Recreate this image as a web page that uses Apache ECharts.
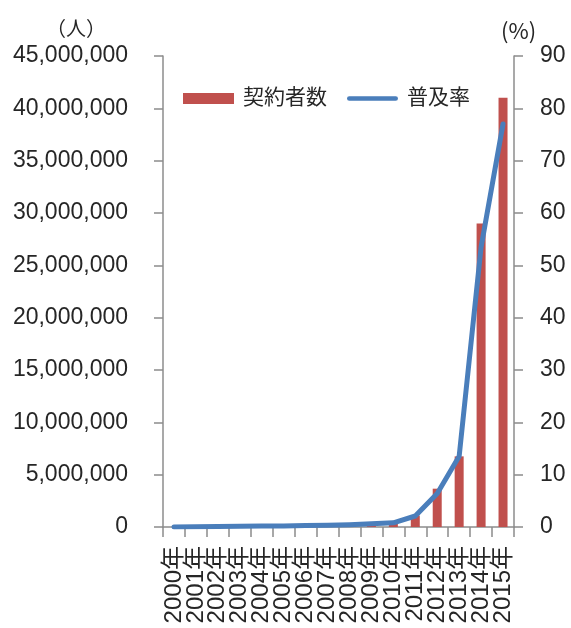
<!DOCTYPE html>
<html>
<head>
<meta charset="utf-8">
<script src="https://cdn.jsdelivr.net/npm/echarts@6/dist/echarts.min.js"></script>
<style>
  html, body { margin: 0; padding: 0; background: #fff; }
  #chart { width: 571px; height: 628px; }
</style>
</head>
<body>
<div id="chart"></div>
<script>
// Years on the category axis
const years = ['2000年','2001年','2002年','2003年','2004年','2005年','2006年','2007年',
               '2008年','2009年','2010年','2011年','2012年','2013年','2014年','2015年'];

// Number of subscribers (persons)
const subscribers = [1000, 2000, 3000, 5000, 8000, 12000, 20000, 35000,
                     60000, 230000, 460000, 1100000, 3660000, 6750000, 29000000, 41000000];

// Penetration rate (%)
const penetration = [0.0, 0.05, 0.1, 0.15, 0.2, 0.2, 0.3, 0.35,
                     0.45, 0.6, 0.8, 2.1, 6.4, 13.5, 53.5, 77.0];

// Axis ranges
const leftMax = 45000000, leftStep = 5000000;
const rightMax = 90, rightStep = 10;

const FONT = '"Liberation Sans", "Noto Sans CJK JP", sans-serif';
const TEXT = '#262626';
const AXIS = '#8c8c8c';
const RED = '#C0504D';
const BLUE = '#4A7EBB';

const chart = echarts.init(document.getElementById('chart'), null, { renderer: 'canvas' });

chart.setOption({
  animation: false,
  backgroundColor: '#fff',
  textStyle: { fontFamily: FONT, color: TEXT },
  grid: { left: 163, right: 57, top: 56, bottom: 101, containLabel: false },
  legend: {
    left: 183,
    top: 88,
    padding: 0,
    itemWidth: 51,
    itemHeight: 11,
    itemGap: 20,
    textStyle: { fontFamily: FONT, fontSize: 21, color: TEXT, padding: [0, 0, 0, 4] },
    data: [
      { name: '契約者数', icon: 'rect' },
      // thin rounded bar as the line key, without a point marker
      { name: '普及率', icon: 'path://M2,0 L52,0 A2.5,2.5 0 0 1 52,5 L2,5 A2.5,2.5 0 0 1 2,0 Z',
        itemStyle: { color: BLUE } }
    ]
  },
  graphic: [
    { type: 'text', left: 46, top: 18, style: { text: '（人）', fontFamily: '"Noto Sans CJK JP", sans-serif', fontSize: 20, fill: TEXT } },
    { type: 'text', left: 501, top: 20, style: { text: '(%)', fontFamily: '"Noto Sans CJK JP", sans-serif', fontSize: 22, fill: TEXT } }
  ],
  xAxis: {
    type: 'category',
    data: years,
    boundaryGap: true,
    axisLine: { show: true, lineStyle: { color: AXIS, width: 1.5 } },
    axisTick: { show: true, length: 10, lineStyle: { color: AXIS, width: 1.5 } },
    axisLabel: {
      rotate: 90,
      interval: 0,
      margin: 19,
      fontFamily: FONT,
      fontSize: 24,
      color: TEXT
    },
    splitLine: { show: false }
  },
  yAxis: [
    {
      type: 'value',
      min: 0,
      max: leftMax,
      interval: leftStep,
      position: 'left',
      axisLine: { show: true, lineStyle: { color: AXIS, width: 1.5 } },
      axisTick: { show: true, length: 9, lineStyle: { color: AXIS, width: 1.5 } },
      axisLabel: {
        margin: 35,
        fontFamily: FONT,
        fontSize: 23,
        color: TEXT,
        formatter: v => v.toLocaleString('en-US')
      },
      splitLine: { show: false }
    },
    {
      type: 'value',
      min: 0,
      max: rightMax,
      interval: rightStep,
      position: 'right',
      axisLine: { show: true, lineStyle: { color: AXIS, width: 1.5 } },
      axisTick: { show: true, length: 9, lineStyle: { color: AXIS, width: 1.5 } },
      axisLabel: {
        margin: 26,
        fontFamily: FONT,
        fontSize: 23,
        color: TEXT
      },
      splitLine: { show: false }
    }
  ],
  series: [
    {
      name: '契約者数',
      type: 'bar',
      yAxisIndex: 0,
      data: subscribers,
      barWidth: 9,
      itemStyle: { color: RED }
    },
    {
      name: '普及率',
      type: 'line',
      yAxisIndex: 1,
      data: penetration,
      symbol: 'none',
      lineStyle: { color: BLUE, width: 5, cap: 'round', join: 'round' },
      itemStyle: { color: BLUE }
    }
  ]
});
</script>
</body>
</html>
